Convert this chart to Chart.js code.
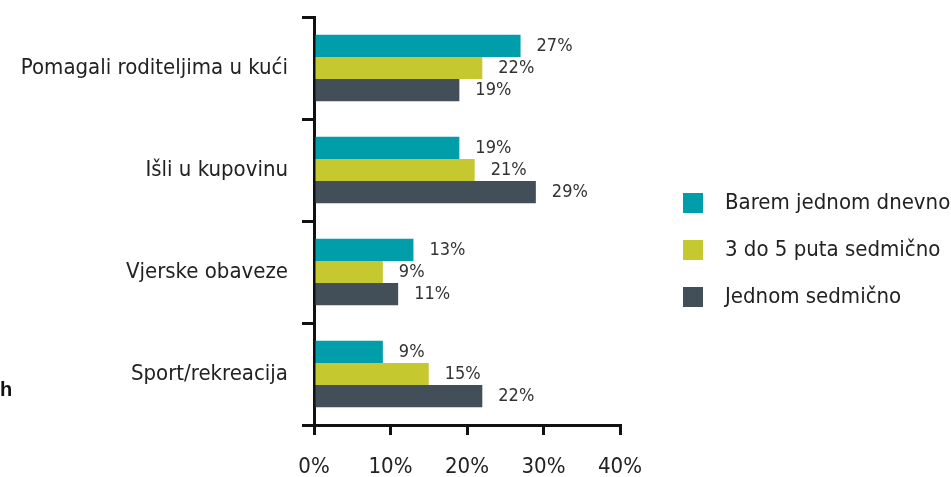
<!DOCTYPE html>
<html>
<head>
<meta charset="utf-8">
<script src="https://cdn.jsdelivr.net/npm/chart.js@4"></script>
<style>
  html, body { margin: 0; padding: 0; background: #fff; }
  #wrap { position: relative; width: 951px; height: 477px; }
  #stray { position: absolute; left: 0; top: 378px; font: bold 20px 'Liberation Sans', sans-serif; color: #111; }
</style>
</head>
<body>
<div id="wrap">
  <canvas id="chart" width="951" height="477"></canvas>
  <div id="stray">h</div>
</div>
<script>
// categories and series
const categories = ['Pomagali roditeljima u kući', 'Išli u kupovinu', 'Vjerske obaveze', 'Sport/rekreacija'];
const seriesNames = ['Barem jednom dnevno', '3 do 5 puta sedmično', 'Jednom sedmično'];
const daily = [27, 19, 13, 9];
const threeToFive = [22, 21, 9, 15];
const weekly = [19, 29, 11, 22];
const xTicks = [0, 10, 20, 30, 40];

const colors = ['#009DAA', '#C5C92F', '#424F58'];
const FONT = "'Liberation Sans Narrow', 'DejaVu Sans Condensed', 'Roboto', sans-serif";

// value labels to the right of each bar
const valueLabels = {
  id: 'valueLabels',
  afterDatasetsDraw(chart) {
    const ctx = chart.ctx;
    ctx.save();
    ctx.font = '18px ' + FONT;
    ctx.fillStyle = '#333';
    ctx.textBaseline = 'middle';
    chart.data.datasets.forEach((ds, i) => {
      chart.getDatasetMeta(i).data.forEach((bar, j) => {
        ctx.fillText(ds.data[j] + '%', bar.x + 16, bar.y);
      });
    });
    ctx.restore();
  },
};

// legend on the right, drawn from the datasets
const sideLegend = {
  id: 'sideLegend',
  afterDraw(chart) {
    const ctx = chart.ctx;
    const area = chart.chartArea;
    ctx.save();
    ctx.font = '22px ' + FONT;
    ctx.textBaseline = 'middle';
    chart.data.datasets.forEach((ds, i) => {
      const y = area.top + 186 + i * 47;
      ctx.fillStyle = ds.backgroundColor;
      ctx.fillRect(area.right + 63, y - 10, 20, 20);
      ctx.fillStyle = '#222';
      ctx.fillText(ds.label, area.right + 105, y);
    });
    ctx.restore();
  },
};

new Chart(document.getElementById('chart'), {
  type: 'bar',
  data: {
    labels: categories,
    datasets: [
      { label: seriesNames[0], data: daily, backgroundColor: colors[0] },
      { label: seriesNames[1], data: threeToFive, backgroundColor: colors[1] },
      { label: seriesNames[2], data: weekly, backgroundColor: colors[2] },
    ],
  },
  options: {
    indexAxis: 'y',
    responsive: false,
    animation: false,
    layout: { padding: { top: 17, right: 331, left: 0, bottom: 0 } },
    datasets: { bar: { categoryPercentage: 0.65, barPercentage: 1 } },
    plugins: {
      legend: { display: false },
      tooltip: { enabled: false },
    },
    scales: {
      x: {
        min: 0,
        max: 40,
        afterBuildTicks(scale) {
          scale.ticks = xTicks.map(v => ({ value: v }));
        },
        afterFit(scale) { scale.height = 52; },
        ticks: {
          callback: v => v + '%',
          color: '#222',
          font: { family: FONT, size: 22 },
          padding: 19,
        },
        grid: {
          drawOnChartArea: false,
          drawTicks: true,
          tickLength: 10,
          color: '#111',
          lineWidth: 3,
        },
        border: { color: '#111', width: 3 },
      },
      y: {
        afterFit(scale) {
          scale.width = 314;
          scale.paddingTop = 0;
          scale.paddingBottom = 0;
        },
        ticks: {
          color: '#222',
          font: { family: FONT, size: 22 },
          padding: 14,
        },
        grid: {
          offset: true,
          drawOnChartArea: false,
          tickLength: 12,
          color: '#111',
          lineWidth: 3,
        },
        border: { color: '#111', width: 3 },
      },
    },
  },
  plugins: [valueLabels, sideLegend],
});
</script>
</body>
</html>
